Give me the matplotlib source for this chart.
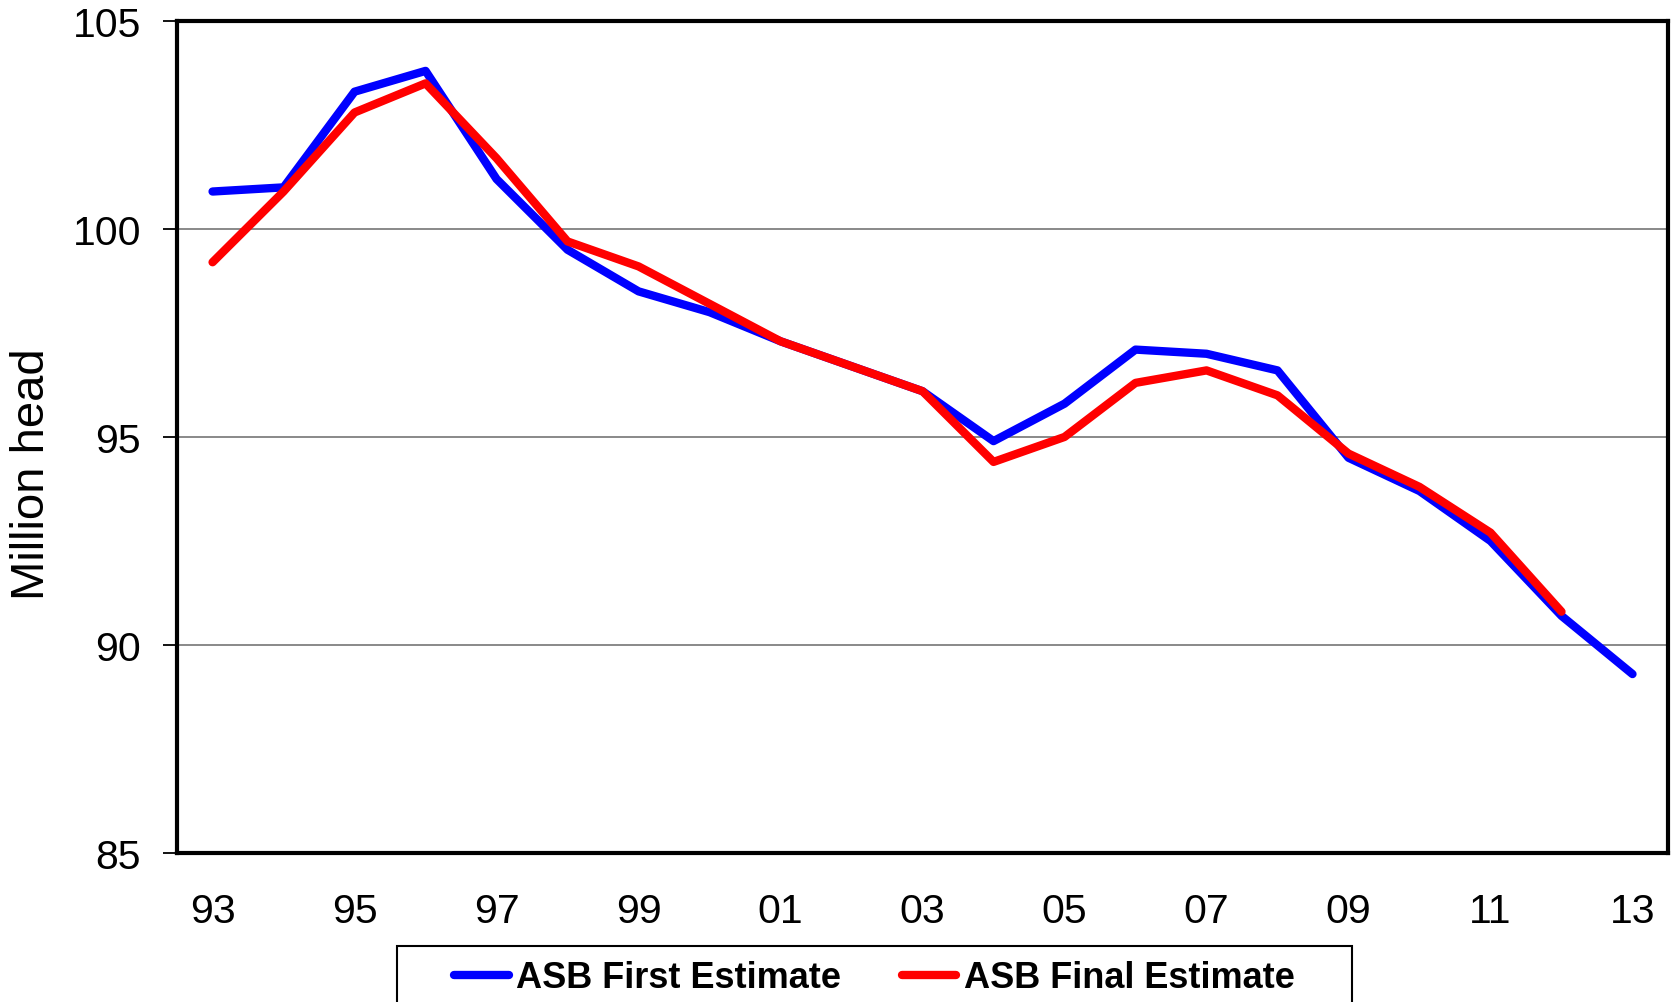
import numpy as np
import matplotlib.pyplot as plt
from matplotlib.patches import Rectangle

plt.rcParams['font.family'] = ['Liberation Sans', 'DejaVu Sans']

years = ['93', '94', '95', '96', '97', '98', '99', '00', '01', '02', '03',
         '04', '05', '06', '07', '08', '09', '10', '11', '12', '13']
first_est = [100.9, 101.0, 103.3, 103.8, 101.2, 99.5, 98.5, 98.0, 97.3, 96.7, 96.1,
             94.9, 95.8, 97.1, 97.0, 96.6, 94.5, 93.7, 92.5, 90.7, 89.3]
final_est = [99.2, 100.9, 102.8, 103.5, 101.7, 99.7, 99.1, 98.2, 97.3, 96.7, 96.1,
             94.4, 95.0, 96.3, 96.6, 96.0, 94.6, 93.8, 92.7, 90.8, np.nan]
y_ticks = [85, 90, 95, 100, 105]

fig = plt.figure(figsize=(16.72, 10.03), dpi=100)
ax = fig.add_axes([0.1059, 0.1486, 0.8917, 0.8295])

x = np.arange(len(years))
ax.plot(x, first_est, color='#0000FF', lw=6, solid_capstyle='round',
        label='ASB First Estimate', zorder=3)
ax.plot(x, final_est, color='#FF0000', lw=6, solid_capstyle='round',
        label='ASB Final Estimate', zorder=4)

ax.set_xlim(-0.5, len(years) - 0.5)
ax.set_ylim(85, 105)
ax.set_yticks(y_ticks)
ax.set_yticklabels([str(v) for v in y_ticks])
ax.set_xticks(x[::2])
ax.set_xticklabels(years[::2])

for v in y_ticks[1:-1]:
    ax.axhline(v, color='#808080', lw=1.3, zorder=1)

for s in ax.spines.values():
    s.set_linewidth(3)
    s.set_color('black')

ax.tick_params(axis='y', labelsize=29.5, length=10, width=1.3, pad=16, direction='out')
ax.tick_params(axis='x', labelsize=29.5, length=0, pad=28)

fig.text(32 / 1672, 0.527, 'Million head', rotation=90, ha='center', va='center',
         fontsize=34)

# legend box (cut off at the bottom edge like the original)
fig.patches.append(Rectangle((397 / 1672, -0.02), (1352 - 397) / 1672, 0.02 + 1 - 947 / 1003,
                             transform=fig.transFigure, fill=False,
                             edgecolor='black', lw=1.5))
fig.legend(loc='center', bbox_to_anchor=(0.523, 0.024), ncol=2, frameon=False,
           prop={'size': 26, 'weight': 'bold'}, handlelength=1.5,
           handletextpad=0.2, columnspacing=1.7)

fig.savefig('out.png', dpi=100)
